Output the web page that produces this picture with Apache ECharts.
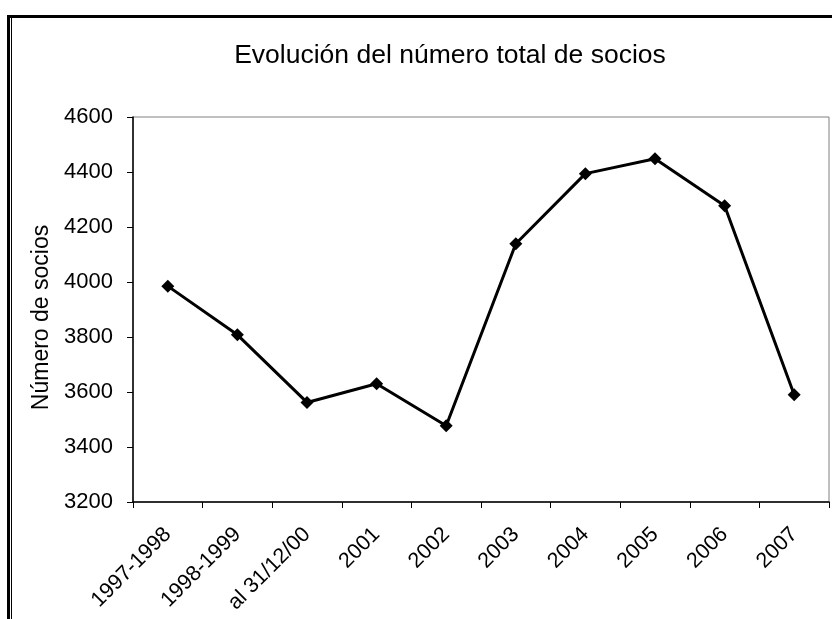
<!DOCTYPE html>
<html>
<head>
<meta charset="utf-8">
<script src="https://cdn.jsdelivr.net/npm/echarts@6/dist/echarts.min.js"></script>
<style>
html,body{margin:0;padding:0;background:#fff;}
#c{width:832px;height:619px;}
</style>
</head>
<body>
<div id="c"></div>
<script>
const categories = ['1997-1998','1998-1999','al 31/12/00','2001','2002','2003','2004','2005','2006','2007'];
const socios = [3985, 3808, 3562, 3630, 3477, 4139, 4394, 4448, 4277, 3590];
const yTicks = [3200, 3400, 3600, 3800, 4000, 4200, 4400, 4600];

const FONT = "'Liberation Sans', Arial, sans-serif";
const chart = echarts.init(document.getElementById('c'), null, {renderer:'canvas'});
chart.setOption({
  animation: false,
  backgroundColor: '#fff',
  title: {
    text: 'Evolución del número total de socios',
    left: 445, top: 37, textAlign: 'center',
    textStyle: {fontFamily: FONT, fontSize: 26.5, fontWeight: 'normal', color: '#000'}
  },
  graphic: [
    {type:'rect', shape:{x:7, y:15, width:840, height:3}, style:{fill:'#000'}},
    {type:'rect', shape:{x:7, y:15, width:3, height:620}, style:{fill:'#000'}},
    {type:'rect', shape:{x:11, y:18, width:1, height:620}, style:{fill:'#000'}}
  ],
  grid: {left:133, right:3, top:117, bottom:117, show:true, borderColor:'#808080', borderWidth:1, backgroundColor:'transparent'},
  xAxis: {
    type:'category', data: categories, boundaryGap: true,
    axisLine:{show:true, lineStyle:{color:'#000', width:1.5}},
    axisTick:{show:true, length:6, lineStyle:{color:'#000'}, alignWithLabel:false},
    axisLabel:{rotate:45, margin:29, interval:0, fontFamily:FONT, fontSize:21.5, color:'#000'},
    splitLine:{show:false}
  },
  yAxis: {
    type:'value', min: yTicks[0], max: yTicks[yTicks.length-1], interval: 200,
    name:'Número de socios', nameLocation:'middle', nameGap:75, nameRotate:90,
    nameTextStyle:{fontFamily:FONT, fontSize:23, color:'#000', padding:[0,16,0,0]},
    axisLine:{show:true, lineStyle:{color:'#000', width:1.5}},
    axisTick:{show:true, length:6, lineStyle:{color:'#000'}},
    axisLabel:{margin:20, fontFamily:FONT, fontSize:22, color:'#000', formatter: v => String(v)},
    splitLine:{show:false}
  },
  series: [{
    type:'line', data: socios,
    symbol:'diamond', symbolSize:13,
    lineStyle:{color:'#000', width:3},
    itemStyle:{color:'#000'}
  }]
});
</script>
</body>
</html>
